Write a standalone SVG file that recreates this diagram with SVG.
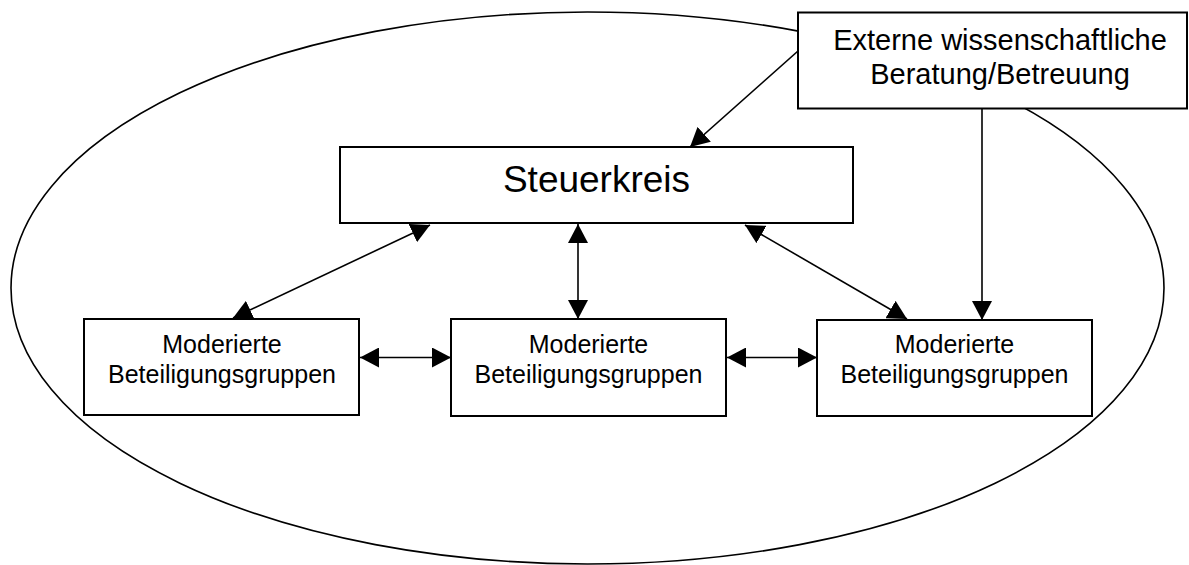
<svg xmlns="http://www.w3.org/2000/svg" width="1189" height="565" viewBox="0 0 1189 565">
<style>
.box{fill:#fff;stroke:#000;stroke-width:2}
.conn{stroke:#000;stroke-width:1.6;fill:none}
.t{font-family:"Liberation Sans",Arial,sans-serif;fill:#000;text-anchor:middle}
.m{font-size:25px}
</style>
<defs>
<marker id="ah" viewBox="0 0 19 20" refX="19" refY="10" markerWidth="19" markerHeight="20" markerUnits="userSpaceOnUse" orient="auto-start-reverse">
<path d="M0,0 L19,10 L0,20 z" fill="#000"/>
</marker>
</defs>
<g id="scope">
<ellipse cx="587.5" cy="288" rx="576.5" ry="276" fill="none" stroke="#000" stroke-width="1.6"/>
</g>
<g id="connectors">
<line class="conn" x1="798" y1="51" x2="690" y2="147" marker-end="url(#ah)"/>
<line class="conn" x1="982" y1="108" x2="982" y2="320" marker-end="url(#ah)"/>
<line class="conn" x1="233" y1="318" x2="430" y2="225" marker-start="url(#ah)" marker-end="url(#ah)"/>
<line class="conn" x1="578" y1="224" x2="578" y2="319" marker-start="url(#ah)" marker-end="url(#ah)"/>
<line class="conn" x1="745" y1="225" x2="907" y2="319" marker-start="url(#ah)" marker-end="url(#ah)"/>
<line class="conn" x1="360" y1="357.5" x2="451" y2="357.5" marker-start="url(#ah)" marker-end="url(#ah)"/>
<line class="conn" x1="727" y1="357.5" x2="817" y2="357.5" marker-start="url(#ah)" marker-end="url(#ah)"/>
</g>
<g id="extern">
<rect class="box" x="798" y="12.5" width="389" height="96"/>
<text class="t" x="1000" y="50" font-size="29">Externe wissenschaftliche</text>
<text class="t" x="1000" y="84" font-size="29">Beratung/Betreuung</text>
</g>
<g id="steuerkreis">
<rect class="box" x="340" y="147" width="513" height="76"/>
<text class="t" x="596.5" y="192" font-size="37">Steuerkreis</text>
</g>
<g id="gruppe1">
<rect class="box" x="84" y="319" width="275" height="96"/>
<text class="t m" x="222" y="353">Moderierte</text>
<text class="t m" x="222" y="383">Beteiligungsgruppen</text>
</g>
<g id="gruppe2">
<rect class="box" x="451" y="319" width="275" height="97"/>
<text class="t m" x="588.5" y="353">Moderierte</text>
<text class="t m" x="588.5" y="383">Beteiligungsgruppen</text>
</g>
<g id="gruppe3">
<rect class="box" x="817" y="320" width="275" height="96"/>
<text class="t m" x="954.5" y="353">Moderierte</text>
<text class="t m" x="954.5" y="383">Beteiligungsgruppen</text>
</g>
</svg>
